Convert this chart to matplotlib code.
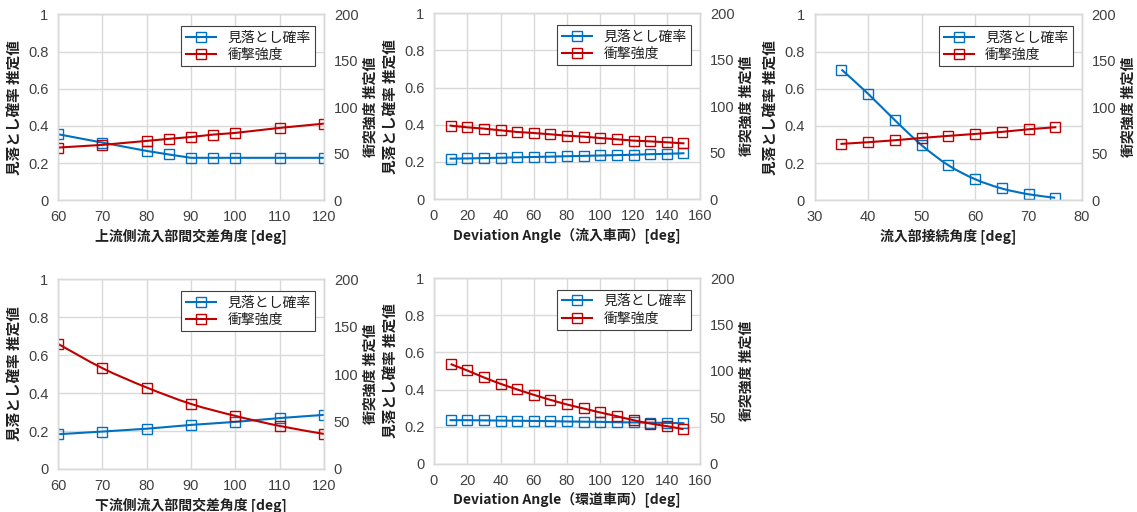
import numpy as np
import matplotlib.pyplot as plt
from matplotlib.path import Path
from matplotlib.patches import PathPatch
from matplotlib.lines import Line2D

plt.rcParams['font.family'] = ['Noto Sans CJK JP', 'DejaVu Sans']

# --- data ---------------------------------------------------------------
x_up = [60, 70, 80, 85, 90, 95, 100, 110, 120]
miss_up = [0.355, 0.31, 0.265, 0.246, 0.228, 0.228, 0.228, 0.228, 0.228]
impact_up = [56.6, 59.5, 63.8, 66.0, 68.0, 70.6, 72.4, 77.8, 82.4]

x_dev_in = [10, 20, 30, 40, 50, 60, 70, 80, 90, 100, 110, 120, 130, 140, 150]
miss_dev_in = [0.218, 0.219, 0.221, 0.223, 0.225, 0.227, 0.229, 0.231, 0.233,
               0.235, 0.237, 0.239, 0.242, 0.244, 0.247]
impact_dev_in = [79.1, 77.3, 75.9, 74.1, 72.3, 71.2, 69.8, 68.3, 67.3, 65.8,
                 64.4, 63.0, 62.2, 61.2, 60.1]

x_conn = [35, 40, 45, 50, 55, 60, 65, 70, 75]
miss_conn = [0.703, 0.572, 0.43, 0.296, 0.188, 0.113, 0.063, 0.032, 0.013]
impact_conn = [60.6, 62.4, 64.5, 67.0, 69.2, 71.3, 73.5, 76.3, 78.5]

x_down = [60, 70, 80, 90, 100, 110, 120]
miss_down = [0.183, 0.197, 0.212, 0.232, 0.248, 0.268, 0.285]
impact_down = [131.8, 106.2, 85.8, 68.5, 55.9, 45.3, 36.9]

x_dev_ring = [10, 20, 30, 40, 50, 60, 70, 80, 90, 100, 110, 120, 130, 140, 150]
miss_dev_ring = [0.235, 0.235, 0.234, 0.233, 0.232, 0.231, 0.230, 0.228, 0.227,
                 0.226, 0.224, 0.223, 0.222, 0.220, 0.219]
impact_dev_ring = [107.4, 100.5, 93.0, 86.2, 80.1, 74.3, 68.9, 63.9, 59.6, 55.3,
                   51.3, 47.0, 43.4, 40.6, 37.3]

xlabels = ['上流側流入部間交差角度 [deg]',
           'Deviation Angle（流入車両）[deg]',
           '流入部接続角度 [deg]',
           '下流側流入部間交差角度 [deg]',
           'Deviation Angle（環道車両）[deg]']
legend_labels = ['見落とし確率', '衝撃強度']
ylabel_left = '見落とし確率 推定値'
ylabel_right = '衝突強度 推定値'

BLUE = '#0070C0'
RED = '#C00000'
GRID = '#d9d9d9'
TXT = '#404040'
NUMFONT = ['Liberation Sans', 'DejaVu Sans']


def smooth_path(x, y):
    # Excel-style smoothed line as cubic bezier through the points
    x = np.asarray(x, float)
    y = np.asarray(y, float)
    pts = np.column_stack([x, y])
    verts = [pts[0]]
    codes = [Path.MOVETO]
    n = len(pts)
    for i in range(n - 1):
        p0 = pts[max(i - 1, 0)]
        p1 = pts[i]
        p2 = pts[i + 1]
        p3 = pts[min(i + 2, n - 1)]
        c1 = p1 + (p2 - p0) / 6.0
        c2 = p2 - (p3 - p1) / 6.0
        verts += [c1, c2, p2]
        codes += [Path.CURVE4] * 3
    return Path(verts, codes)


def panel(rect, x, miss, impact, xlim, xticks, xlabel, smooth_blue, smooth_red):
    ax = fig.add_axes(rect)
    ax2 = ax.twinx()
    ax.set_zorder(1)
    ax.patch.set_visible(False)
    ax2.set_zorder(2)

    mk = dict(marker='s', ms=6.5, mfc='none', mew=1.0)
    if smooth_blue:
        ax.add_patch(PathPatch(smooth_path(x, miss), fill=False, edgecolor=BLUE, lw=1.5))
        ax.plot(x, miss, ls='none', mec=BLUE, **mk)
    else:
        ax.plot(x, miss, color=BLUE, lw=1.5, mec=BLUE, **mk)
    if smooth_red:
        ax2.add_patch(PathPatch(smooth_path(x, impact), fill=False, edgecolor=RED, lw=1.5))
        ax2.plot(x, impact, ls='none', mec=RED, **mk)
    else:
        ax2.plot(x, impact, color=RED, lw=1.5, mec=RED, **mk)

    ax.set_xlim(*xlim)
    ax.set_xticks(xticks)
    ax.set_ylim(0, 1)
    ax.set_yticks([0, 0.2, 0.4, 0.6, 0.8, 1])
    ax.set_yticklabels(['0', '0.2', '0.4', '0.6', '0.8', '1'])
    ax2.set_ylim(0, 200)
    ax2.set_yticks([0, 50, 100, 150, 200])

    ax.grid(True, color=GRID, lw=1.0)
    ax.set_axisbelow(True)
    for a in (ax, ax2):
        for s in a.spines.values():
            s.set_color(GRID)
            s.set_linewidth(1.0)
        a.tick_params(length=0, labelsize=10.5, labelcolor=TXT, pad=7)
        for t in a.get_xticklabels() + a.get_yticklabels():
            t.set_family(NUMFONT)

    ax.set_xlabel(xlabel, fontsize=10, fontweight='bold', color='#202020', labelpad=3)
    ax.set_ylabel(ylabel_left, fontsize=10.5, fontweight='bold', color='#202020', labelpad=4)
    ax2.set_ylabel(ylabel_right, fontsize=10, fontweight='bold', color='#202020',
                   rotation=90, labelpad=4)

    handles = [Line2D([], [], color=BLUE, lw=1.5, mec=BLUE, **mk),
               Line2D([], [], color=RED, lw=1.5, mec=RED, **mk)]
    leg = ax2.legend(handles, legend_labels, loc='upper right', bbox_to_anchor=(0.965, 0.935),
                     fancybox=False, framealpha=1, edgecolor='#404040', fontsize=10,
                     handlelength=2.2, borderpad=0.3, labelspacing=0.25, borderaxespad=0)
    leg.get_frame().set_linewidth(0.8)
    for t in leg.get_texts():
        t.set_color('#202020')
    return ax, ax2


fig = plt.figure(figsize=(11.37, 5.12), dpi=100)

panel([0.051, 0.609, 0.234, 0.363], x_up, miss_up, impact_up,
      (60, 120), np.arange(60, 121, 10), xlabels[0], False, False)
panel([0.3817, 0.611, 0.234, 0.363], x_dev_in, miss_dev_in, impact_dev_in,
      (0, 160), np.arange(0, 161, 20), xlabels[1], False, False)
panel([0.7166, 0.609, 0.235, 0.363], x_conn, miss_conn, impact_conn,
      (30, 80), np.arange(30, 81, 10), xlabels[2], True, False)
panel([0.051, 0.084, 0.234, 0.371], x_down, miss_down, impact_down,
      (60, 120), np.arange(60, 121, 10), xlabels[3], False, True)
panel([0.3817, 0.094, 0.234, 0.363], x_dev_ring, miss_dev_ring, impact_dev_ring,
      (0, 160), np.arange(0, 161, 20), xlabels[4], False, True)

fig.savefig('out.png', dpi=100)
